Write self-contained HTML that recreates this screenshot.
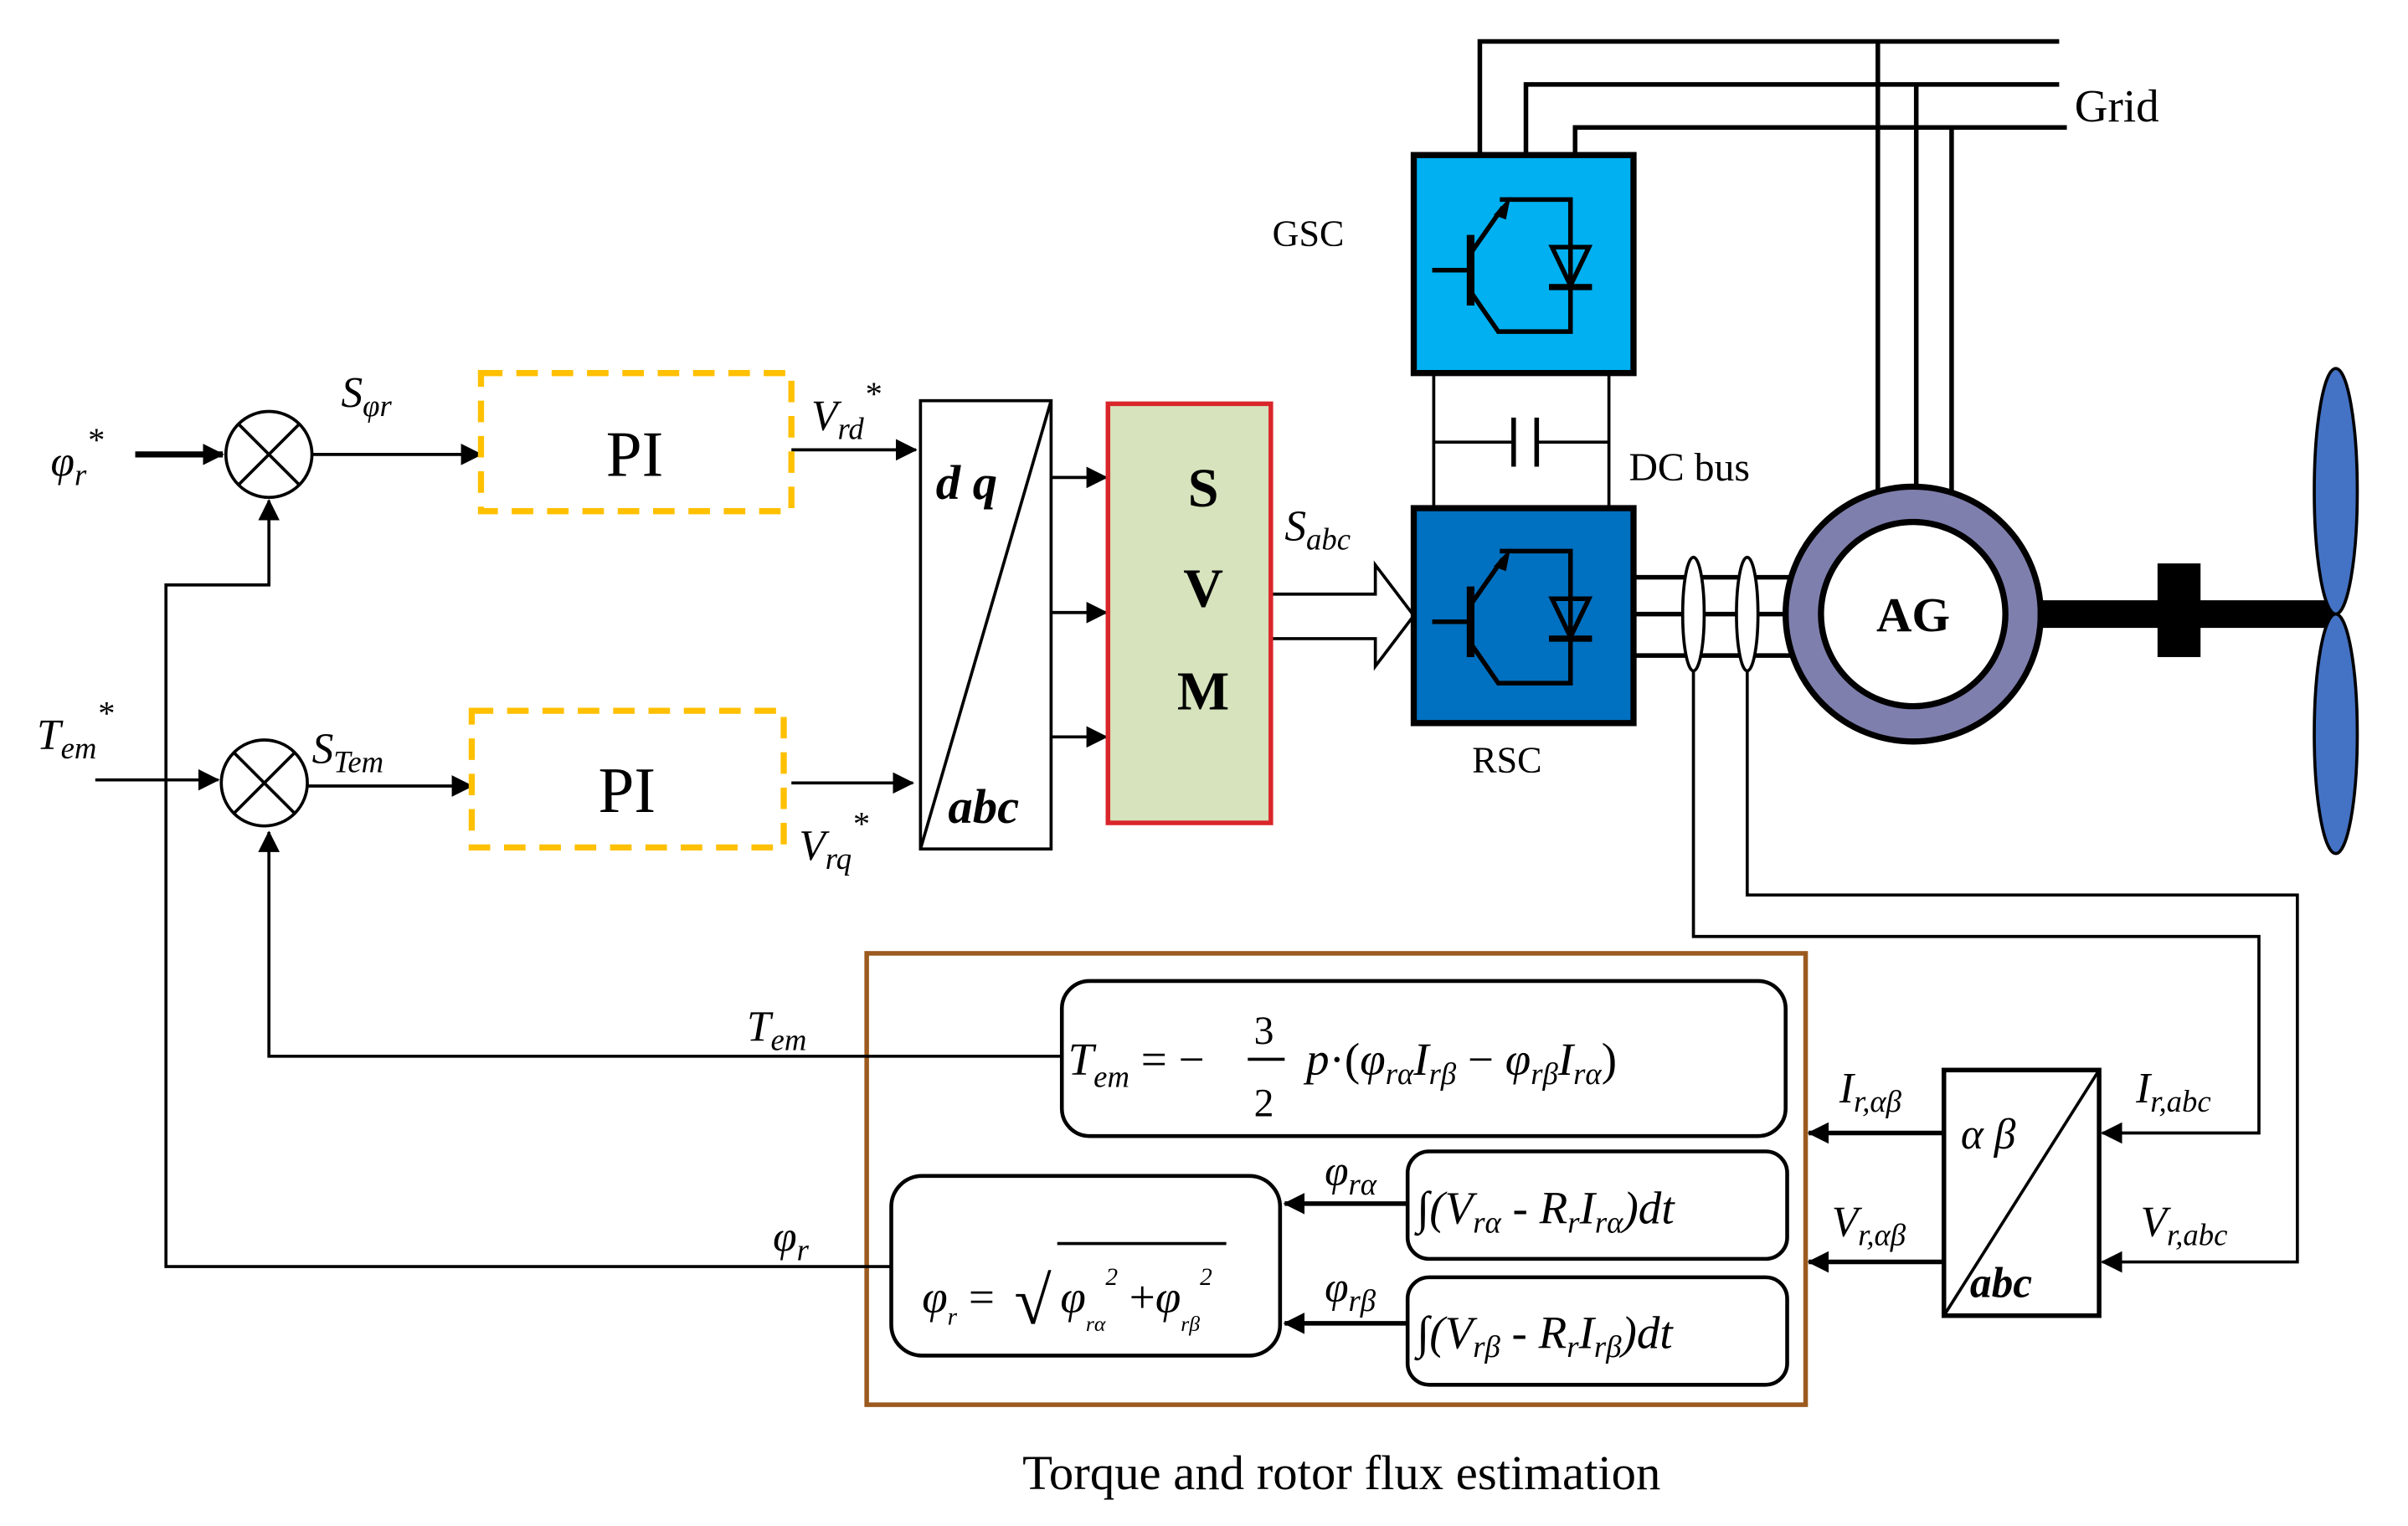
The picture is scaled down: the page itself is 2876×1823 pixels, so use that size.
<!DOCTYPE html>
<html><head><meta charset="utf-8"><style>
html,body{margin:0;padding:0;background:#fff;}
svg{display:block;}
text{font-family:"Liberation Serif",serif;}
.it{font-style:italic;}
</style></head><body>
<svg width="2876" height="1823" viewBox="0 0 1567 994" preserveAspectRatio="none" xmlns="http://www.w3.org/2000/svg">
<defs>
<marker id="b" markerWidth="14" markerHeight="14" refX="13" refY="7" orient="auto" markerUnits="userSpaceOnUse"><path d="M0,0 L14,7 L0,14 Z" fill="#000"/></marker>
</defs>
<rect width="1567" height="994" fill="#fff"/>
<g stroke="#000" fill="none" stroke-width="2">
<line x1="88" y1="296" x2="145" y2="296" stroke-width="4" marker-end="url(#b)"/>
<circle cx="175" cy="296" r="28"/>
<line x1="155" y1="276" x2="195" y2="316"/><line x1="195" y1="276" x2="155" y2="316"/>
<line x1="203" y1="296" x2="313" y2="296" marker-end="url(#b)"/>
<line x1="515" y1="293" x2="596" y2="293" marker-end="url(#b)"/>
<line x1="62" y1="508" x2="142" y2="508" marker-end="url(#b)"/>
<circle cx="172" cy="510" r="28"/>
<line x1="152" y1="490" x2="192" y2="530"/><line x1="192" y1="490" x2="152" y2="530"/>
<line x1="200" y1="512" x2="307" y2="512" marker-end="url(#b)"/>
<line x1="515" y1="510" x2="594" y2="510" marker-end="url(#b)"/>
<rect x="599" y="261" width="85" height="292"/>
<line x1="684" y1="261" x2="599" y2="553"/>
<line x1="684" y1="311" x2="720" y2="311" marker-end="url(#b)"/>
<line x1="684" y1="399" x2="720" y2="399" marker-end="url(#b)"/>
<line x1="684" y1="480" x2="720" y2="480" marker-end="url(#b)"/>
<path d="M828,387 L895,387 L895,368 L920,401 L895,434 L895,416 L828,416" stroke-width="2"/>
<line x1="933" y1="243" x2="933" y2="331"/><line x1="1047" y1="243" x2="1047" y2="331"/>
<line x1="933" y1="288" x2="985" y2="288"/><line x1="1000" y1="288" x2="1047" y2="288"/>
<line x1="985" y1="272" x2="985" y2="304" stroke-width="3"/><line x1="1000" y1="272" x2="1000" y2="304" stroke-width="3"/>
<polyline points="963,101 963,27 1340,27" stroke-width="3"/>
<polyline points="993,101 993,55 1340,55" stroke-width="3"/>
<polyline points="1025,101 1025,83 1345,83" stroke-width="3"/>
<line x1="1222" y1="27" x2="1222" y2="335" stroke-width="3"/>
<line x1="1247" y1="55" x2="1247" y2="325" stroke-width="3"/>
<line x1="1270" y1="83" x2="1270" y2="335" stroke-width="3"/>
<line x1="1063" y1="376" x2="1190" y2="376" stroke-width="3"/>
<line x1="1063" y1="400" x2="1190" y2="400" stroke-width="3"/>
<line x1="1063" y1="427" x2="1190" y2="427" stroke-width="3"/>
</g>
<rect x="313" y="243" width="202" height="90" fill="none" stroke="#ffc000" stroke-width="4" stroke-dasharray="14,9"/>
<rect x="307" y="463" width="203" height="89" fill="none" stroke="#ffc000" stroke-width="4" stroke-dasharray="14,9"/>
<text x="413" y="310" font-size="42" text-anchor="middle">PI</text>
<text x="408" y="529" font-size="42" text-anchor="middle">PI</text>
<rect x="721" y="263" width="106" height="273" fill="#d6e3bc" stroke="#d9262a" stroke-width="3"/>
<g font-size="36" font-weight="bold" text-anchor="middle"><text x="783" y="330">S</text><text x="783" y="395">V</text><text x="783" y="462">M</text></g>
<rect x="920" y="101" width="143" height="142" fill="#00b0f0" stroke="#000" stroke-width="4"/>
<rect x="920" y="331" width="143" height="140" fill="#0070c0" stroke="#000" stroke-width="4"/>
<g stroke="#000" stroke-width="3" fill="none">
<g id="igbt">
<line x1="932" y1="176" x2="956" y2="176"/>
<line x1="957" y1="153" x2="957" y2="199" stroke-width="5"/>
<line x1="957" y1="165" x2="978" y2="135"/>
<polyline points="976,130 1022,130 1022,216 975,216 957,190"/>
<path d="M1010,161 L1034,161 L1022,186 Z"/>
<line x1="1008" y1="187" x2="1036" y2="187" stroke-width="4"/>
</g>
<use href="#igbt" y="229"/>
</g>
<path d="M983,128 L972,140 L980,143 Z" fill="#000"/>
<path d="M983,357 L972,369 L980,372 Z" fill="#000"/>
<circle cx="1245" cy="400" r="72" fill="none" stroke="#7f7fae" stroke-width="22"/>
<circle cx="1245" cy="400" r="83" fill="none" stroke="#000" stroke-width="4"/>
<circle cx="1245" cy="400" r="60" fill="#fff" stroke="#000" stroke-width="4"/>
<text x="1245" y="411" font-size="32" font-weight="bold" text-anchor="middle">AG</text>
<rect x="1326" y="391" width="194" height="18" fill="#000"/>
<rect x="1404" y="367" width="28" height="61" fill="#000"/>
<ellipse cx="1520" cy="320" rx="14" ry="80" fill="#4472c4" stroke="#000" stroke-width="2"/>
<ellipse cx="1520" cy="478" rx="14" ry="78" fill="#4472c4" stroke="#000" stroke-width="2"/>
<ellipse cx="1102" cy="400" rx="7" ry="37" fill="#fff" stroke="#000" stroke-width="2"/>
<ellipse cx="1137" cy="400" rx="7" ry="37" fill="#fff" stroke="#000" stroke-width="2"/>
<g stroke="#000" fill="none" stroke-width="2">
<polyline points="1102,437 1102,610 1470,610 1470,738 1368,738" marker-end="url(#b)"/>
<polyline points="1137,437 1137,583 1495,583 1495,822 1368,822" marker-end="url(#b)"/>
<rect x="1265" y="697" width="101" height="160" stroke-width="3"/>
<line x1="1366" y1="697" x2="1265" y2="857"/>
<line x1="1265" y1="738" x2="1177" y2="738" stroke-width="3" marker-end="url(#b)"/>
<line x1="1265" y1="822" x2="1177" y2="822" stroke-width="3" marker-end="url(#b)"/>
<rect x="564" y="621" width="611" height="294" stroke="#9c5a1f" stroke-width="3"/>
<rect x="691" y="639" width="471" height="101" rx="18" stroke-width="2.5"/>
<rect x="916" y="750" width="247" height="70" rx="14" stroke-width="2.5"/>
<rect x="916" y="832" width="247" height="70" rx="14" stroke-width="2.5"/>
<rect x="580" y="766" width="253" height="117" rx="20" stroke-width="2.5"/>
<line x1="916" y1="784" x2="836" y2="784" stroke-width="3" marker-end="url(#b)"/>
<line x1="916" y1="862" x2="836" y2="862" stroke-width="3" marker-end="url(#b)"/>
<polyline points="691,688 175,688 175,542" marker-end="url(#b)"/>
<polyline points="580,825 108,825 108,381 175,381 175,326" marker-end="url(#b)"/>
</g>
<g font-size="28" class="it">
<text x="33" y="310" class="it">φ<tspan font-size="20" dy="6">r</tspan><tspan font-size="22" dy="-22">*</tspan></text>
<text x="222" y="265" class="it">S<tspan font-size="20" dy="6">φr</tspan></text>
<text x="528" y="280" class="it">V<tspan font-size="20" dy="6">rd</tspan><tspan font-size="22" dy="-22">*</tspan></text>
<text x="24" y="488" class="it">T<tspan font-size="20" dy="6">em</tspan><tspan font-size="22" dy="-22">*</tspan></text>
<text x="203" y="497" class="it">S<tspan font-size="20" dy="6">Tem</tspan></text>
<text x="520" y="560" class="it">V<tspan font-size="20" dy="6">rq</tspan><tspan font-size="22" dy="-22">*</tspan></text>
<text x="836" y="352" class="it">S<tspan font-size="20" dy="6">abc</tspan></text>
<text x="486" y="678" class="it">T<tspan font-size="20" dy="6">em</tspan></text>
<text x="503" y="815" class="it">φ<tspan font-size="20" dy="6">r</tspan></text>
<text x="862" y="772" class="it">φ<tspan font-size="20" dy="6">rα</tspan></text>
<text x="862" y="848" class="it">φ<tspan font-size="20" dy="6">rβ</tspan></text>
<text x="1197" y="718" class="it">I<tspan font-size="20" dy="6">r,αβ</tspan></text>
<text x="1192" y="805" class="it">V<tspan font-size="20" dy="6">r,αβ</tspan></text>
<text x="1390" y="718" class="it">I<tspan font-size="20" dy="6">r,abc</tspan></text>
<text x="1393" y="805" class="it">V<tspan font-size="20" dy="6">r,abc</tspan></text>
<text x="1276" y="748" class="it">α β</text>
<text x="1282" y="845" font-weight="bold" class="it">abc</text>
</g>
<text x="609" y="325" font-size="32" font-weight="bold" class="it">d q</text>
<text x="617" y="536" font-size="32" font-weight="bold" class="it">abc</text>
<text x="1350" y="79" font-size="30">Grid</text>
<text x="828" y="160" font-size="24">GSC</text>
<text x="958" y="503" font-size="24">RSC</text>
<text x="1060" y="313" font-size="26">DC bus</text>
<g class="it" font-size="30">
<text x="695" y="700">T<tspan font-size="20" dy="8">em</tspan><tspan dy="-8" font-style="normal"> = −</tspan></text>
<text x="816" y="680" font-size="26" font-style="normal">3</text>
<line x1="812" y1="690" x2="836" y2="690" stroke="#000" stroke-width="2"/>
<text x="816" y="727" font-size="26" font-style="normal">2</text>
<text x="850" y="700">p<tspan font-style="normal">·(</tspan>φ<tspan font-size="20" dy="6">rα</tspan><tspan dy="-6">I</tspan><tspan font-size="20" dy="6">rβ</tspan><tspan dy="-6" font-style="normal"> − </tspan>φ<tspan font-size="20" dy="6">rβ</tspan><tspan dy="-6">I</tspan><tspan font-size="20" dy="6">rα</tspan><tspan dy="-6" font-style="normal">)</tspan></text>
<text x="922" y="797">∫(V<tspan font-size="20" dy="6">rα</tspan><tspan dy="-6"> - R</tspan><tspan font-size="20" dy="6">r</tspan><tspan dy="-6">I</tspan><tspan font-size="20" dy="6">rα</tspan><tspan dy="-6">)dt</tspan></text>
<text x="922" y="878">∫(V<tspan font-size="20" dy="6">rβ</tspan><tspan dy="-6"> - R</tspan><tspan font-size="20" dy="6">r</tspan><tspan dy="-6">I</tspan><tspan font-size="20" dy="6">rβ</tspan><tspan dy="-6">)dt</tspan></text>
<text x="600" y="855">φ<tspan font-size="16" dy="8">r</tspan><tspan dy="-8" font-style="normal"> =</tspan></text>
<text x="660" y="862" font-size="44" font-style="normal">√</text>
<line x1="688" y1="810" x2="798" y2="810" stroke="#000" stroke-width="2"/>
<text x="690" y="855">φ<tspan font-size="14" dy="12">rα</tspan><tspan font-size="16" dy="-30">2</tspan><tspan dy="18" font-style="normal"> +</tspan>φ<tspan font-size="14" dy="12">rβ</tspan><tspan font-size="16" dy="-30">2</tspan></text>
</g>
<text x="873" y="970" font-size="32" text-anchor="middle">Torque and rotor flux estimation</text>
</svg>
</body></html>
